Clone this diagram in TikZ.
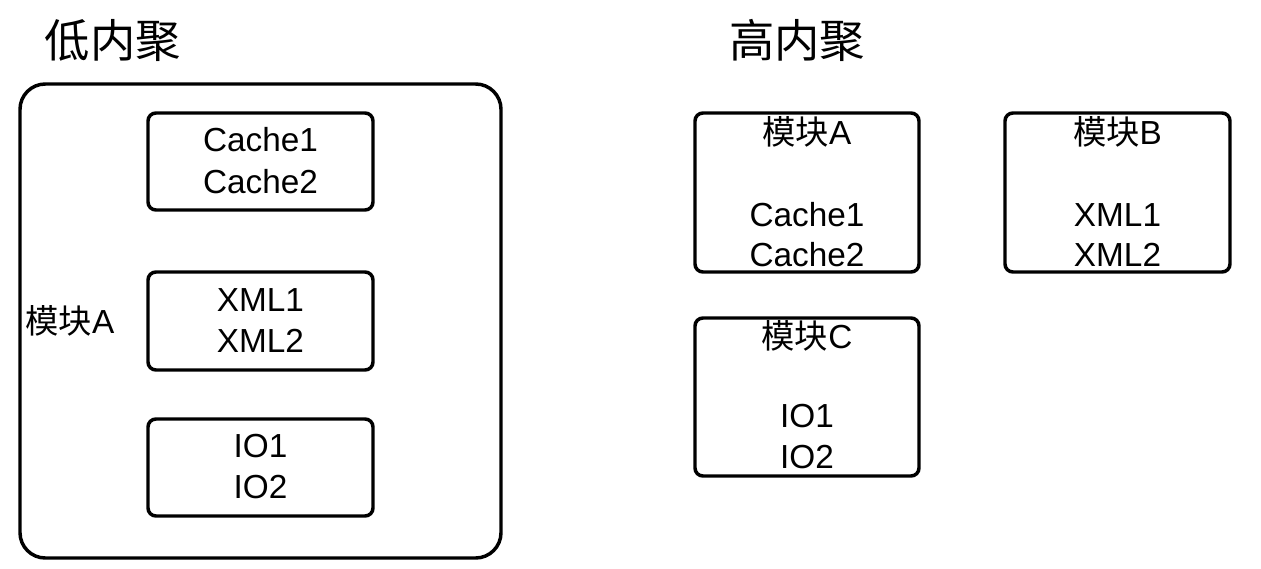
\documentclass[tikz,border=0pt]{standalone}
\usepackage{fontspec}
\setmainfont{Liberation Sans}
\newfontfamily\cjk{Noto Sans CJK SC}
\tikzset{every picture/.style={line width=0.75pt}}
\tikzset{
  modbox/.style={line width=2.6pt, rounded corners=6pt},
  bigbox/.style={line width=2.6pt, rounded corners=19pt},
  lbl/.style={inner sep=0.75pt, font=\fontsize{25}{29}\selectfont},
  ttl/.style={inner sep=0.75pt, font=\cjk\fontsize{34}{38}\selectfont}
}
\begin{document}
\begin{tikzpicture}[x=0.75pt,y=0.75pt,yscale=-1,xscale=1]
\useasboundingbox (0,0) rectangle (1261,568);

% Titles
\node[ttl] (lowtitle) at (113,40) {低内聚};
\node[ttl] (hightitle) at (797,40) {高内聚};

%Rounded Rect: low cohesion module
\draw[bigbox] (20,84) rectangle (501,558);
\node[lbl] (lowmod) at (70,321) {{\cjk 模块}A};

%Rounded Rect: inner parts
\draw[modbox] (148,113) rectangle (373,210);
\node[lbl] (lowcacheA) at (260.5,140) {Cache1};
\node[lbl] (lowcacheB) at (260.5,182) {Cache2};
\draw[modbox] (148,272) rectangle (373,370);
\node[lbl] (lowxmlA) at (260.5,300) {XML1};
\node[lbl] (lowxmlB) at (260.5,341) {XML2};
\draw[modbox] (148,419) rectangle (373,516);
\node[lbl] (lowioA) at (260.5,446) {IO1};
\node[lbl] (lowioB) at (260.5,487) {IO2};

%Rounded Rect: high cohesion modules
\draw[modbox] (695,113) rectangle (919,272);
\node[lbl] (modA) at (807,132) {{\cjk 模块}A};
\node[lbl] (hicacheA) at (807,215) {Cache1};
\node[lbl] (hicacheB) at (807,255) {Cache2};
\draw[modbox] (1005,113) rectangle (1230,272);
\node[lbl] (modB) at (1117.5,132) {{\cjk 模块}B};
\node[lbl] (hixmlA) at (1117.5,215) {XML1};
\node[lbl] (hixmlB) at (1117.5,255) {XML2};
\draw[modbox] (695,318) rectangle (919,476);
\node[lbl] (modC) at (807,336) {{\cjk 模块}C};
\node[lbl] (hiioA) at (807,416) {IO1};
\node[lbl] (hiioB) at (807,457) {IO2};

\end{tikzpicture}
\end{document}
